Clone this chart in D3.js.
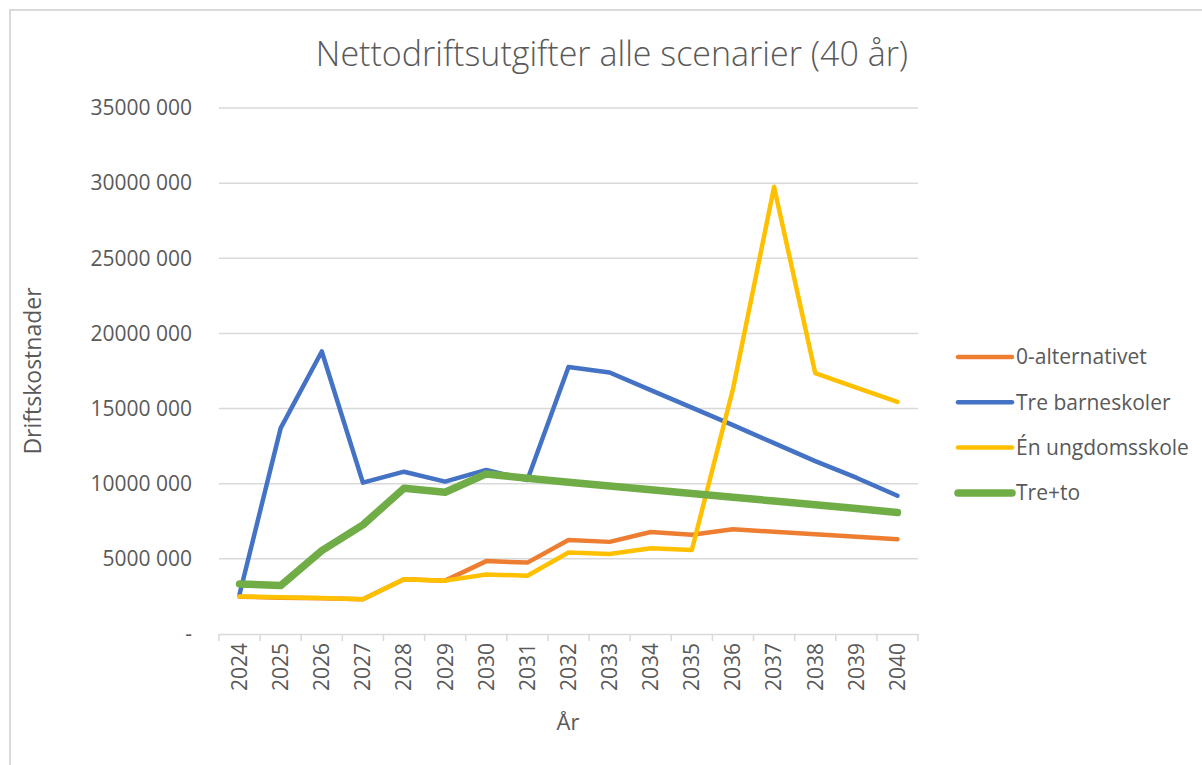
<!DOCTYPE html>
<html>
<head>
<meta charset="utf-8">
<script src="https://cdn.jsdelivr.net/npm/d3@7"></script>
<style>
  html, body { margin: 0; padding: 0; background: #fff; }
  svg text { font-family: "Open Sans", "Noto Sans", sans-serif; fill: #595959; }
</style>
</head>
<body>
<div id="chart"></div>
<script>
// data
var years = ["2024", "2025", "2026", "2027", "2028", "2029", "2030", "2031", "2032",
  "2033", "2034", "2035", "2036", "2037", "2038", "2039", "2040"];
var nullAlt = [2480000, 2420000, 2380000, 2310000, 3640000, 3550000, 4850000, 4750000, 6260000,
  6130000, 6790000, 6610000, 6970000, 6800000, 6630000, 6470000, 6300000];
var treBarneskoler = [2650000, 13700000, 18800000, 10070000, 10800000, 10140000, 10920000, 10250000, 17760000,
  17400000, 16230000, 15060000, 13900000, 12700000, 11500000, 10400000, 9200000];
var enUngdomsskole = [2500000, 2440000, 2390000, 2310000, 3640000, 3550000, 3960000, 3880000, 5420000,
  5330000, 5700000, 5590000, 16300000, 29750000, 17360000, 16400000, 15450000];
var treTo = [3330000, 3220000, 5550000, 7260000, 9700000, 9430000, 10650000, 10370000, 10100000,
  9850000, 9600000, 9350000, 9100000, 8850000, 8600000, 8350000, 8080000];
var yTicks = [0, 5000000, 10000000, 15000000, 20000000, 25000000, 30000000, 35000000];

var series = [
  { name: "0-alternativet", values: nullAlt, color: "#ED7D31", width: 4.5 },
  { name: "Tre barneskoler", values: treBarneskoler, color: "#4472C4", width: 4.5 },
  { name: "Én ungdomsskole", values: enUngdomsskole, color: "#FFC000", width: 4.5 },
  { name: "Tre+to", values: treTo, color: "#70AD47", width: 7.5 }
];

var W = 1202, H = 765;
var plotLeft = 219, plotRight = 918, plotTop = 108, plotBottom = 634;

var svg = d3.select("#chart").append("svg")
  .attr("width", W).attr("height", H);

// chart frame
svg.append("rect")
  .attr("x", 10).attr("y", 10)
  .attr("width", W + 20).attr("height", H + 20)
  .attr("fill", "#fff").attr("stroke", "#d9d9d9").attr("stroke-width", 2);

var x = d3.scaleBand().domain(years).range([plotLeft, plotRight]).padding(0);
var y = d3.scaleLinear().domain([0, 35000000]).range([plotBottom, plotTop]);
function cx(d) { return x(d) + x.bandwidth() / 2; }

function fmt(v) {
  if (v === 0) return "-";
  return Math.floor(v / 1000) + " 000";
}

// gridlines
svg.append("g").selectAll("line")
  .data(yTicks.filter(function (d) { return d > 0; }))
  .enter().append("line")
  .attr("x1", plotLeft).attr("x2", plotRight)
  .attr("y1", function (d) { return y(d); })
  .attr("y2", function (d) { return y(d); })
  .attr("stroke", "#d9d9d9").attr("stroke-width", 1.5);

// y labels
svg.append("g").selectAll("text")
  .data(yTicks)
  .enter().append("text")
  .attr("x", 192)
  .attr("y", function (d) { return y(d); })
  .attr("dy", "0.35em")
  .attr("text-anchor", "end")
  .style("font-size", "21px")
  .text(fmt);

// x axis
var xAxis = d3.axisBottom(x).tickSize(0).tickFormat("");
var gx = svg.append("g").attr("transform", "translate(0," + plotBottom + ")").call(xAxis);
gx.select(".domain").attr("stroke", "#d9d9d9").attr("stroke-width", 1.5);
gx.selectAll(".tick").remove();

var boundaries = years.map(function (d) { return x(d); }).concat([plotRight]);
gx.selectAll("line.tk")
  .data(boundaries)
  .enter().append("line").attr("class", "tk")
  .attr("x1", function (d) { return d; }).attr("x2", function (d) { return d; })
  .attr("y1", 0).attr("y2", 7)
  .attr("stroke", "#d9d9d9").attr("stroke-width", 1.5);

svg.append("g").selectAll("text")
  .data(years)
  .enter().append("text")
  .attr("transform", function (d) { return "translate(" + cx(d) + ",643) rotate(-90)"; })
  .attr("dy", "0.35em")
  .attr("text-anchor", "end")
  .style("font-size", "21px")
  .text(function (d) { return d; });

// axis titles
svg.append("text")
  .attr("x", 568).attr("y", 730)
  .attr("text-anchor", "middle")
  .style("font-size", "22px")
  .text("År");

svg.append("text")
  .attr("transform", "translate(41,371) rotate(-90)")
  .attr("text-anchor", "middle")
  .style("font-size", "23px")
  .text("Driftskostnader");

// title
svg.append("text")
  .attr("x", 612).attr("y", 66)
  .attr("text-anchor", "middle")
  .style("font-size", "34px")
  .style("font-weight", 300)
  .text("Nettodriftsutgifter alle scenarier (40 år)");

// lines
var line = d3.line()
  .x(function (d, i) { return cx(years[i]); })
  .y(function (d) { return y(d); });

svg.append("g").selectAll("path")
  .data(series)
  .enter().append("path")
  .attr("d", function (s) { return line(s.values); })
  .attr("fill", "none")
  .attr("stroke", function (s) { return s.color; })
  .attr("stroke-width", function (s) { return s.width; })
  .attr("stroke-linejoin", "round")
  .attr("stroke-linecap", "round");

// legend
var lg = svg.append("g").selectAll("g")
  .data(series)
  .enter().append("g")
  .attr("transform", function (d, i) { return "translate(958," + (357 + i * 45.3) + ")"; });
lg.append("line")
  .attr("x1", 0).attr("x2", 54)
  .attr("stroke", function (s) { return s.color; })
  .attr("stroke-width", function (s) { return s.width; })
  .attr("stroke-linecap", "round");
lg.append("text")
  .attr("x", 58).attr("dy", "0.35em")
  .style("font-size", "21px")
  .text(function (s) { return s.name; });
</script>
</body>
</html>
